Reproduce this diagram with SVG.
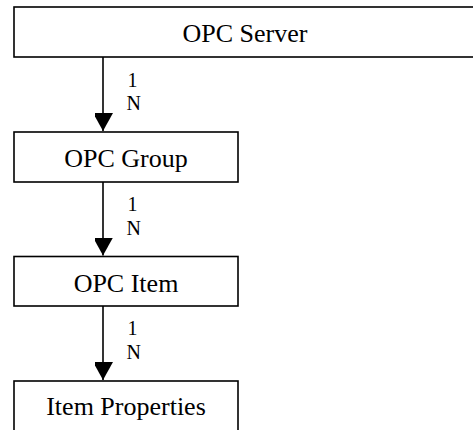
<svg xmlns="http://www.w3.org/2000/svg" width="473" height="430" viewBox="0 0 473 430">
  <style>
    .box { fill: #ffffff; stroke: #000000; stroke-width: 1.6; }
    .title { font-family: "Liberation Serif", "Times New Roman", serif; font-size: 26px; fill: #000000; text-anchor: middle; }
    .card { font-family: "Liberation Serif", "Times New Roman", serif; font-size: 20px; fill: #000000; }
    .link { stroke: #000000; stroke-width: 1.6; fill: none; }
  </style>
  <defs>
    <marker id="arrow" markerUnits="userSpaceOnUse" markerWidth="20" markerHeight="18" refX="18" refY="10" orient="auto">
      <path d="M0,0 L18,10 L0,20 Z" fill="#000000"/>
    </marker>
  </defs>
  <rect width="473" height="430" fill="#ffffff"/>

  <g id="opc-server">
    <rect class="box" x="14" y="7" width="464" height="50"/>
    <text class="title" x="245" y="42">OPC Server</text>
  </g>
  <g id="opc-group">
    <rect class="box" x="14" y="132" width="224" height="50"/>
    <text class="title" x="126" y="167">OPC Group</text>
  </g>
  <g id="opc-item">
    <rect class="box" x="14" y="256.5" width="224" height="49.5"/>
    <text class="title" x="126" y="291.5">OPC Item</text>
  </g>
  <g id="item-properties">
    <rect class="box" x="14" y="381" width="224" height="52"/>
    <text class="title" x="126" y="415">Item Properties</text>
  </g>

  <g id="connectors">
    <line class="link" x1="103" y1="57" x2="103" y2="131" marker-end="url(#arrow)"/>
    <text class="card" x="127.5" y="86.5">1</text>
    <text class="card" x="126.5" y="110">N</text>

    <line class="link" x1="103" y1="182" x2="103" y2="255.5" marker-end="url(#arrow)"/>
    <text class="card" x="127.5" y="211">1</text>
    <text class="card" x="126.5" y="235">N</text>

    <line class="link" x1="103" y1="306" x2="103" y2="380" marker-end="url(#arrow)"/>
    <text class="card" x="127.5" y="335">1</text>
    <text class="card" x="126.5" y="359">N</text>
  </g>
</svg>
